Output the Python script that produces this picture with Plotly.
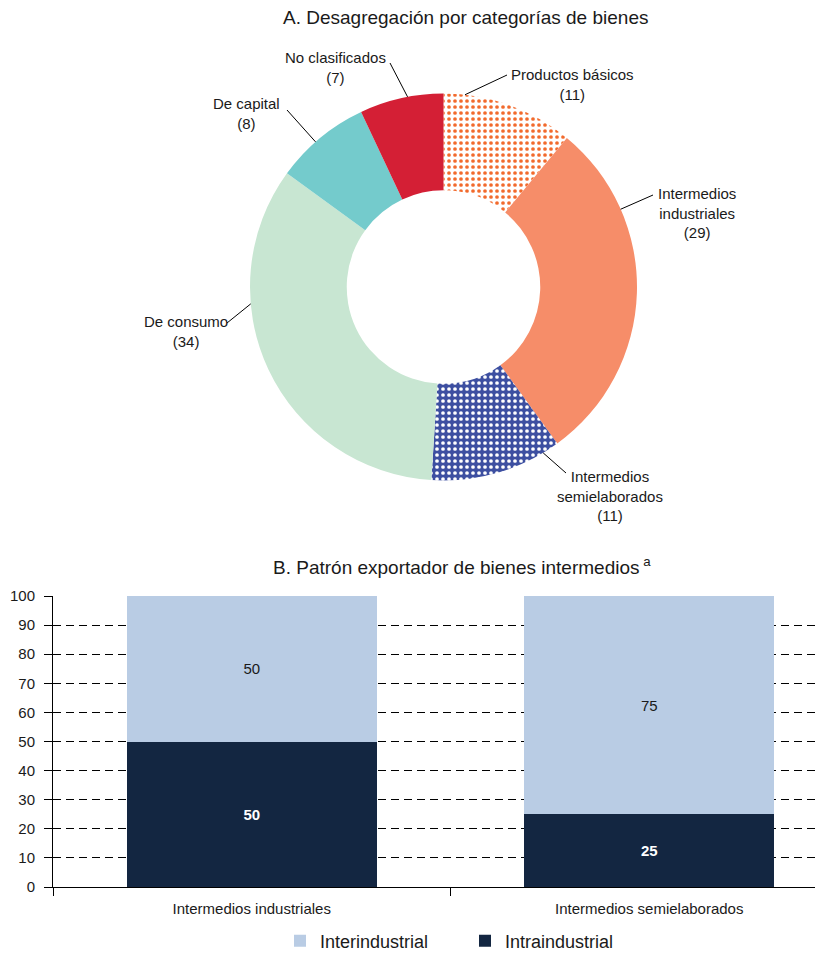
import math
import plotly.graph_objects as go

# page is drawn with an 8px body margin: figure occupies 8..823 x 8..955
OX, OY = 8, 8
FW, FH = 823 - OX, 955 - OY

# ---------------- Data ----------------
pie_labels = ["Productos básicos", "Intermedios industriales", "Intermedios semielaborados",
              "De consumo", "De capital", "No clasificados"]
pie_label_display = ["Productos básicos", "Intermedios<br>industriales", "Intermedios<br>semielaborados",
                     "De consumo", "De capital", "No clasificados"]
pie_values = [11, 29, 11, 34, 8, 7]

bar_categories = ["Intermedios industriales", "Intermedios semielaborados"]
inter_values = [50, 75]   # Interindustrial
intra_values = [50, 25]   # Intraindustrial
y_ticks = [0, 10, 20, 30, 40, 50, 60, 70, 80, 90, 100]

title_a = "A. Desagregación por categorías de bienes"
title_b = "B. Patrón exportador de bienes intermedios<sup> a</sup>"

# ---------------- Styles ----------------
FONT = "Arial, Liberation Sans, Helvetica, sans-serif"
TXT = "#1a1a1a"
pie_colors = ["#ffffff", "#F68D69", "#3D4FA1", "#C8E6D2", "#74CBCC", "#D41F35"]
pattern_shapes = [".", "", ".", "", "", ""]
pattern_fg = ["#F26A2C", "#F68D69", "#ffffff", "#C8E6D2", "#74CBCC", "#D41F35"]
pattern_bg = ["#ffffff", "#F68D69", "#3D4FA1", "#C8E6D2", "#74CBCC", "#D41F35"]
INTER_COLOR = "#B9CCE4"
INTRA_COLOR = "#132641"


def px(x):
    return (x - OX) / FW


def py(y):
    return 1 - (y - OY) / FH


# pie geometry in page pixels
CX, CY, R = 443.5, 287.0, 193.5

fig = go.Figure()

fig.add_trace(go.Pie(
    labels=pie_labels,
    values=pie_values,
    sort=False,
    direction="clockwise",
    rotation=0,
    hole=0.5,
    textinfo="none",
    hoverinfo="label+value",
    showlegend=False,
    marker=dict(
        colors=pie_colors,
        line=dict(width=0),
        pattern=dict(shape=pattern_shapes, fgcolor=pattern_fg, bgcolor=pattern_bg,
                     size=6, solidity=0.3, fillmode="replace"),
    ),
    domain=dict(x=[px(CX - R), px(CX + R)], y=[py(CY + R), py(CY - R)]),
))

# label leader-line layout: anchor angle on the ring (deg, clockwise from top),
# line end point (px) and text centre (px)
label_anchor_deg = [6.4, 66.3, 149.0, 265.0, 318.6, 349.3]
label_line_end = [(507, 75), (653, 195), (566, 473), (227, 323), (287, 110), (390, 63)]
label_text_pos = [(572, 84), (697, 213), (610, 496), (186, 332), (247, 114), (335, 68)]

shapes = []
annotations = []
for name, val, ang, (lx, ly), (tx, ty) in zip(pie_label_display, pie_values, label_anchor_deg,
                                               label_line_end, label_text_pos):
    a = math.radians(ang)
    ax_ = CX + R * math.sin(a)
    ay_ = CY - R * math.cos(a)
    shapes.append(dict(type="line", xref="paper", yref="paper",
                       x0=px(ax_), y0=py(ay_), x1=px(lx), y1=py(ly),
                       line=dict(color="black", width=1)))
    annotations.append(dict(xref="paper", yref="paper", x=px(tx), y=py(ty),
                            text=f"{name}<br>({val})", showarrow=False,
                            xanchor="center", yanchor="middle", align="center",
                            font=dict(family=FONT, size=15, color=TXT)))

# ---------------- Bar chart ----------------
xpos = list(range(len(bar_categories)))
fig.add_trace(go.Bar(
    x=xpos, y=intra_values, name="Intraindustrial", marker_color=INTRA_COLOR,
    width=0.63, xaxis="x", yaxis="y", legendrank=2,
    texttemplate="<b>%{y}</b>", textposition="inside", insidetextanchor="middle",
    textangle=0, textfont=dict(family=FONT, size=15, color="white"),
    marker_line_width=0,
))
fig.add_trace(go.Bar(
    x=xpos, y=inter_values, name="Interindustrial", marker_color=INTER_COLOR,
    width=0.63, xaxis="x", yaxis="y", legendrank=1,
    texttemplate="%{y}", textposition="inside", insidetextanchor="middle",
    textangle=0, textfont=dict(family=FONT, size=15, color=TXT),
    marker_line_width=0,
))

annotations.append(dict(xref="paper", yref="paper", x=px(465), y=py(18), text=title_a,
                        showarrow=False, xanchor="center", yanchor="middle",
                        font=dict(family=FONT, size=19, color=TXT)))
annotations.append(dict(xref="paper", yref="paper", x=px(462), y=py(566), text=title_b,
                        showarrow=False, xanchor="center", yanchor="middle",
                        font=dict(family=FONT, size=19, color=TXT)))

fig.update_layout(
    width=FW, height=FH,
    margin=dict(l=0, r=0, t=0, b=0, autoexpand=False),
    paper_bgcolor="white", plot_bgcolor="white",
    barmode="stack",
    font=dict(family=FONT, size=15, color=TXT),
    xaxis=dict(
        domain=[px(53), 1],
        range=[-0.5, 1.5 - (848 - 823) / 397.5],
        tickmode="array", tickvals=xpos, ticktext=bar_categories,
        ticks="", showgrid=False, zeroline=False, automargin=False,
        showline=True, linecolor="black", linewidth=1,
        ticklabelstandoff=8,
        tickfont=dict(family=FONT, size=15, color=TXT),
        minor=dict(tick0=-0.5, dtick=1, ticks="outside", ticklen=8,
                   tickcolor="black", tickwidth=1, showgrid=False),
        fixedrange=True,
    ),
    yaxis=dict(
        domain=[py(887), py(596)],
        range=[0, 100],
        tickmode="array", tickvals=y_ticks,
        ticks="outside", ticklen=8, tickcolor="black", tickwidth=1,
        showline=True, linecolor="black", linewidth=1,
        showgrid=True, gridcolor="black", gridwidth=1, griddash="8px,5px",
        zeroline=False, automargin=False,
        ticklabelstandoff=6,
        tickfont=dict(family=FONT, size=15, color=TXT),
        fixedrange=True,
    ),
    legend=dict(
        orientation="h", x=px(280), y=py(941), xanchor="left", yanchor="middle",
        font=dict(family=FONT, size=18, color=TXT),
        entrywidth=140, entrywidthmode="pixels",
        traceorder="normal",
    ),
    shapes=shapes,
    annotations=annotations,
)

fig.write_html("out.html")
